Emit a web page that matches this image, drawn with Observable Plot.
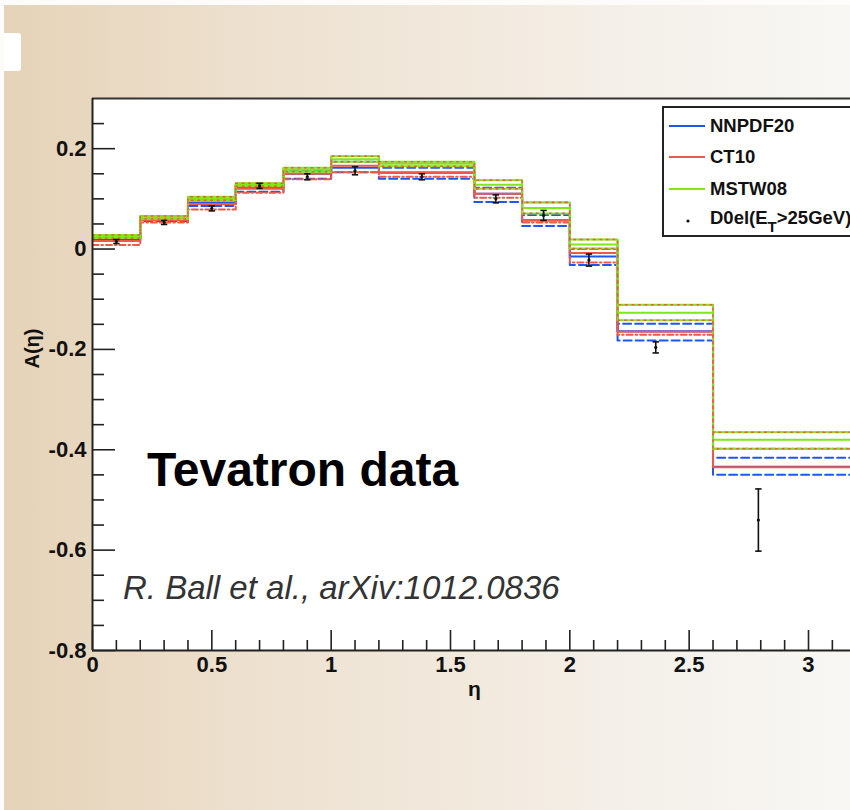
<!DOCTYPE html>
<html>
<head>
<meta charset="utf-8">
<script src="https://cdn.jsdelivr.net/npm/d3@7"></script>
<script src="https://cdn.jsdelivr.net/npm/@observablehq/plot@0.6"></script>
<style>
  body { margin: 0; background: #ffffff; }
  #page { position: relative; width: 850px; height: 810px; overflow: hidden; background: #fdfcfa;
          font-family: "Liberation Sans", Arial, sans-serif; }
  #bg { position: absolute; left: 4px; top: 5px; right: 0; bottom: 0;
        background: linear-gradient(to right, #e5d3b8 0%, #eadac4 15%, #eee3d3 35%, #f2e9dd 55%, #f4f0ea 75%, #f8f7f4 100%); }
  #notch { position: absolute; left: 4px; top: 33px; width: 17px; height: 38px; background: #ffffff; border-radius: 0 3px 3px 0; }
  #chart { position: absolute; left: 0; top: 0; }
  #legend { position: absolute; left: 662px; top: 106px; width: 220px; height: 131px; background: #fff;
            border: 2px solid #222; box-sizing: border-box; }
  .item { position: absolute; left: 0; height: 20px; width: 220px; }
  .item svg { position: absolute; left: 5px; top: 0; }
  .item span { position: absolute; left: 46px; top: 0; font-weight: bold; font-size: 18.5px; line-height: 20px; color: #111; white-space: nowrap; }
  #tev { position: absolute; left: 147px; top: 442px; font-size: 48px; font-weight: bold; color: #000; white-space: nowrap; }
  #ref { position: absolute; left: 123px; top: 569px; font-size: 33px; font-style: italic; color: #333; white-space: nowrap; }
</style>
</head>
<body>
<div id="page">
  <div id="bg"></div>
  <div id="notch"></div>
  <div id="chart"></div>
  <div id="legend"></div>
  <div id="tev">Tevatron data</div>
  <div id="ref">R. Ball et al., arXiv:1012.0836</div>
</div>
<script>
// ---------- data ----------
const binEdges = [0, 0.2, 0.4, 0.6, 0.8, 1.0, 1.2, 1.6, 1.8, 2.0, 2.2, 2.6, 3.2];

const nnpdfCentral = [0.020, 0.060, 0.093, 0.123, 0.150, 0.162, 0.152, 0.110, 0.057, -0.015, -0.164, -0.434];
const nnpdfUpper   = [0.024, 0.063, 0.098, 0.127, 0.156, 0.174, 0.162, 0.122, 0.068,  0.000, -0.149, -0.416];
const nnpdfLower   = [0.016, 0.056, 0.086, 0.114, 0.140, 0.153, 0.140, 0.094, 0.046, -0.032, -0.182, -0.450];

const ct10Central  = [0.016, 0.058, 0.090, 0.120, 0.150, 0.166, 0.153, 0.110, 0.058, -0.008, -0.165, -0.435];
const ct10Upper    = [0.028, 0.066, 0.104, 0.131, 0.162, 0.185, 0.174, 0.137, 0.093,  0.019, -0.111, -0.365];
const ct10Lower    = [0.008, 0.053, 0.079, 0.112, 0.139, 0.153, 0.144, 0.102, 0.053, -0.027, -0.171, -0.398];

const mstwCentral  = [0.025, 0.063, 0.100, 0.128, 0.158, 0.179, 0.170, 0.128, 0.082,  0.009, -0.127, -0.380];
const mstwUpper    = [0.028, 0.066, 0.104, 0.131, 0.162, 0.185, 0.174, 0.137, 0.093,  0.019, -0.111, -0.365];
const mstwLower    = [0.022, 0.060, 0.097, 0.125, 0.154, 0.174, 0.165, 0.120, 0.071,  0.001, -0.142, -0.398];

const dataEta = [0.10, 0.30, 0.50, 0.70, 0.90, 1.10, 1.38, 1.69, 1.89, 2.08, 2.36, 2.79];
const dataA   = [0.015, 0.053, 0.081, 0.126, 0.144, 0.156, 0.144, 0.100, 0.067, -0.022, -0.196, -0.540];
const dataErr = [0.004, 0.004, 0.005, 0.005, 0.006, 0.008, 0.006, 0.008, 0.010, 0.012, 0.011, 0.062];

const yMajor = [-0.8, -0.6, -0.4, -0.2, 0, 0.2];
const yMinor = [-0.75, -0.7, -0.65, -0.55, -0.5, -0.45, -0.35, -0.3, -0.25, -0.15, -0.1, -0.05, 0.05, 0.1, 0.15, 0.25];
const xMajor = [0, 0.5, 1, 1.5, 2, 2.5, 3];
const xMinor = [0.1, 0.2, 0.3, 0.4, 0.6, 0.7, 0.8, 0.9, 1.1, 1.2, 1.3, 1.4, 1.6, 1.7, 1.8, 1.9, 2.1, 2.2, 2.3, 2.4, 2.6, 2.7, 2.8, 2.9, 3.1];
const xDomain = [0, 3.176];
const yDomain = [-0.8, 0.3];

const legendLabels = ["NNPDF20", "CT10", "MSTW08", "D0el(E"];

// ---------- helpers ----------
const steps = vals => vals.map((v, i) => ({eta: binEdges[i], A: v})).concat([{eta: binEdges[vals.length], A: vals[vals.length - 1]}]);
const BLUE = "#1f55f0", RED = "#f0584a", GREEN = "#80e61a";
const points = dataEta.map((e, i) => ({eta: e, A: dataA[i], err: dataErr[i]}));
const cap = {draw(ctx, size) { const r = Math.sqrt(size / Math.PI); ctx.moveTo(-r, 0); ctx.lineTo(r, 0); }};
const fmt = d => d === 0 ? "0" : (Math.round(d * 10) / 10).toString();
const stepLine = (vals, opts) => Plot.line(steps(vals), {x: "eta", y: "A", curve: "step-after", clip: true, strokeWidth: 2, ...opts});

const chart = Plot.plot({
  width: 850, height: 810,
  marginLeft: 92, marginRight: 0, marginTop: 98, marginBottom: 160,
  style: {background: "transparent", fontFamily: "'Liberation Sans', Arial, sans-serif"},
  x: {domain: xDomain, label: null},
  y: {domain: yDomain, label: null},
  marks: [
    Plot.frame({fill: "white", stroke: null}),
    // NNPDF2.0
    stepLine(nnpdfUpper, {stroke: BLUE, strokeDasharray: "8,4"}),
    stepLine(nnpdfLower, {stroke: BLUE, strokeDasharray: "8,4"}),
    stepLine(nnpdfCentral, {stroke: BLUE}),
    // CT10
    stepLine(ct10Central, {stroke: RED}),
    stepLine(ct10Lower, {stroke: RED, strokeDasharray: "6,3,1.5,3"}),
    stepLine(ct10Upper, {stroke: RED, strokeDasharray: "6,3,1.5,3", strokeWidth: 1.6}),
    // MSTW08
    stepLine(mstwCentral, {stroke: GREEN}),
    stepLine(mstwLower, {stroke: GREEN}),
    stepLine(mstwUpper, {stroke: GREEN}),
    stepLine(mstwUpper, {stroke: RED, strokeDasharray: "1.5,5", strokeWidth: 1.6}),
    stepLine(mstwLower, {stroke: RED, strokeDasharray: "1.5,5", strokeWidth: 1.6}),
    // D0 data
    Plot.link(points, {x1: "eta", x2: "eta", y1: d => d.A - d.err, y2: d => d.A + d.err, stroke: "#111", strokeWidth: 1.6}),
    Plot.dot(points, {x: "eta", y: d => d.A - d.err, symbol: cap, r: 3.2, stroke: "#111", strokeWidth: 1.6}),
    Plot.dot(points, {x: "eta", y: d => d.A + d.err, symbol: cap, r: 3.2, stroke: "#111", strokeWidth: 1.6}),
    Plot.dot(points, {x: "eta", y: "A", r: 1.6, fill: "#111", stroke: null}),
    // frame lines
    Plot.ruleY([yDomain[1]], {stroke: "#333", strokeWidth: 2}),
    Plot.ruleY([yDomain[0]], {stroke: "#222", strokeWidth: 2}),
    Plot.ruleX([xDomain[0]], {stroke: "#222", strokeWidth: 2}),
    // axes (ticks inside)
    Plot.axisY(yMajor, {tickSize: -23, tickFormat: () => "", color: "#222", strokeWidth: 1.6}),
    Plot.axisY(yMinor, {tickSize: -12, tickFormat: () => "", color: "#222", strokeWidth: 1.6}),
    Plot.axisY(yMajor, {tickSize: 0, tickPadding: 6, tickFormat: fmt, fontSize: 22, fontWeight: "bold", color: "#111"}),
    Plot.axisX(xMajor, {tickSize: -20, tickFormat: () => "", color: "#222", strokeWidth: 1.6}),
    Plot.axisX(xMinor, {tickSize: -10, tickFormat: () => "", color: "#222", strokeWidth: 1.6}),
    Plot.axisX(xMajor, {tickSize: 0, tickPadding: 6, tickFormat: fmt, fontSize: 22, fontWeight: "bold", color: "#111"}),
    // axis titles
    Plot.text(["A(η)"], {frameAnchor: "left", dx: -60, dy: -6, rotate: -90, fontSize: 20, fontWeight: "bold", fill: "#111"}),
    Plot.text(["η"], {frameAnchor: "bottom", dx: 3, dy: 45, fontSize: 21, fontWeight: "bold", fill: "#111"})
  ]
});
document.getElementById("chart").appendChild(chart);

// ---------- legend ----------
const legend = document.getElementById("legend");
const legendColors = [BLUE, RED, GREEN, null];
const legendTops = [8, 39, 71, 100];
legendLabels.forEach((lab, i) => {
  const div = document.createElement("div");
  div.className = "item";
  div.style.top = legendTops[i] + "px";
  const c = legendColors[i];
  const mark = c
    ? `<svg width="36" height="20"><line x1="0" x2="36" y1="10" y2="10" stroke="${c}" stroke-width="2"/></svg>`
    : `<svg width="36" height="20"><circle cx="19" cy="13" r="1.6" fill="#111"/></svg>`;
  const text = c ? lab : `${lab}<sub style="font-size:15px;vertical-align:-8px;">T</sub>&gt;25GeV)`;
  div.innerHTML = mark + `<span>${text}</span>`;
  legend.appendChild(div);
});
</script>
</body>
</html>
